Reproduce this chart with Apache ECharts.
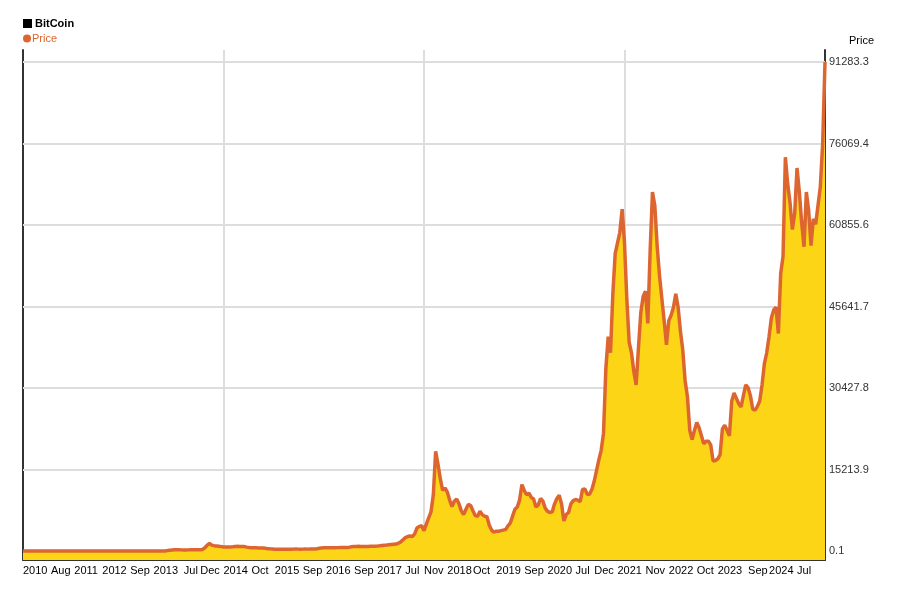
<!DOCTYPE html>
<html>
<head>
<meta charset="utf-8">
<script src="https://cdn.jsdelivr.net/npm/echarts@6/dist/echarts.min.js"></script>
<style>
html,body{margin:0;padding:0;background:#fff;}
#chart{width:900px;height:600px;}
</style>
</head>
<body>
<div id="chart"></div>
<script>
// Half-monthly BitCoin prices, starting 2010-07-16
const p2010 = [0.1, 0.1, 0.1, 0.1, 0.1, 0.1, 0.12, 0.2, 0.3, 0.25, 0.25];
const p2011 = [0.3, 0.3, 0.5, 0.9, 1.0, 0.9, 0.8, 0.8, 1.5, 3.5, 8, 20, 17, 15, 14, 11, 9, 6, 5, 4, 3.3, 3, 2.5, 3];
const p2012 = [4.3, 6.5, 6, 5.5, 4.8, 5, 5, 5, 5, 5, 5, 6.5, 8.5, 9, 11, 10, 11, 12, 12, 11, 11, 11, 11, 13];
const p2013 = [13, 14, 20, 80, 150, 200, 220, 230, 220, 210, 200, 200, 210, 220, 220, 230, 230, 240, 300, 600, 1100, 1400, 1100, 1000];
const p2014 = [950, 900, 820, 760, 740, 740, 760, 800, 850, 870, 860, 840, 820, 720, 640, 620, 620, 600, 580, 580, 570, 500, 440, 400];
const p2015 = [370, 340, 320, 310, 310, 330, 340, 330, 340, 350, 360, 350, 340, 350, 360, 350, 360, 370, 390, 430, 500, 580, 620, 620];
const p2016 = [630, 620, 610, 620, 630, 640, 640, 650, 660, 720, 800, 840, 860, 870, 860, 850, 850, 860, 870, 870, 890, 920, 960, 1020];
const p2017 = [1070, 1100, 1150, 1200, 1250, 1300, 1450, 1700, 2100, 2500, 2700, 2800, 2700, 3200, 4300, 4600, 4700, 3800, 5000, 6200, 7300, 10500, 18600, 16200];
const p2018 = [13500, 11300, 11800, 11000, 9500, 8300, 9300, 9700, 8800, 7500, 6800, 7800, 8700, 8500, 7500, 6600, 6500, 7400, 6800, 6500, 6400, 4800, 3900, 3500];
const p2019 = [3700, 3700, 3800, 3900, 4000, 4700, 5200, 6500, 7800, 8200, 9500, 12400, 11300, 10500, 10800, 10000, 9700, 8200, 8600, 9800, 9300, 8000, 7400, 7200];
const p2020 = [7300, 8800, 9800, 10400, 8800, 5600, 6800, 7200, 8800, 9400, 9600, 9500, 9200, 11500, 11600, 10600, 10600, 11500, 13000, 15000, 17000, 18800, 22000, 34000];
const p2021 = [40000, 37000, 48000, 55500, 57500, 59500, 63800, 57500, 47000, 39000, 37000, 33500, 31000, 38000, 44500, 47500, 48500, 42500, 56000, 67000, 64500, 57000, 51500, 47200];
const p2022 = [43000, 38500, 43000, 44000, 45500, 48000, 45500, 41000, 37500, 31800, 28800, 22500, 20800, 22500, 24000, 23000, 21500, 20000, 20500, 20500, 19800, 16800, 16900, 17200];
const p2023 = [18000, 22800, 23500, 22500, 21500, 28000, 29500, 28500, 27500, 26900, 29000, 31000, 30500, 29000, 26500, 26300, 27000, 28000, 31000, 35000, 37000, 40000, 43500, 45000];
const p2024 = [45500, 40600, 51800, 55000, 73500, 68500, 65000, 60000, 63000, 71500, 67000, 61200, 56800, 67000, 63500, 57000, 62000, 61000, 64500, 68000, 76000, 91283.3];

const priceValues = [].concat(p2010, p2011, p2012, p2013, p2014, p2015, p2016, p2017,
  p2018, p2019, p2020, p2021, p2022, p2023, p2024);

// x-axis tick labels and the dates they sit at
const xTickLabels = ['2010','Aug','2011','2012','Sep','2013','Jul','Dec','2014','Oct','2015','Sep','2016','Sep','2017','Jul','Nov',
  '2018','Oct','2019','Sep','2020','Jul','Dec','2021','Nov','2022','Oct','2023','Sep','2024','Jul'];
const xTickDates = ['2010-07-16','2011-01-16','2011-06-16','2011-12-16','2012-06-16','2012-11-16','2013-06-01','2013-09-16',
  '2014-02-16','2014-08-16','2015-01-16','2015-07-16','2015-12-16','2016-06-16','2016-11-16','2017-05-16','2017-09-16',
  '2018-02-16','2018-08-01','2019-01-01','2019-07-01','2019-12-01','2020-06-01','2020-10-01','2021-03-01','2021-09-01',
  '2022-02-01','2022-08-01','2022-12-16','2023-07-01','2023-11-16','2024-05-16'];
const xGridDates = ['2014-02-16', '2017-09-16', '2021-04-16'];

// y-axis tick labels
const yTickValues = [0.1, 15213.9, 30427.8, 45641.7, 60855.6, 76069.4, 91283.3];
const yMin = -1680;
const yMax = 93522;

// build category dates (half-monthly)
const dateCats = [];
(function () {
  let y = 2010, m = 7, d = 16;
  const pad = n => (n < 10 ? '0' + n : '' + n);
  for (let i = 0; i < priceValues.length; i++) {
    dateCats.push(y + '-' + pad(m) + '-' + pad(d));
    if (d === 1) { d = 16; } else { d = 1; m++; if (m > 12) { m = 1; y++; } }
  }
})();

const tickMap = {};
xTickDates.forEach((dt, k) => { tickMap[dt] = xTickLabels[k]; });

const FONT = '"Liberation Sans", Arial, sans-serif';
const ORANGE = '#dd6630';
const YELLOW = '#fcd616';

const chart = echarts.init(document.getElementById('chart'), null, { renderer: 'canvas' });
chart.setOption({
  animation: false,
  backgroundColor: '#ffffff',
  textStyle: { fontFamily: FONT },
  title: [
    {
      left: 23, top: 18, padding: 0,
      text: '{sq|}{t|BitCoin}',
      textStyle: {
        rich: {
          sq: { width: 9, height: 9, backgroundColor: '#000' },
          t: { fontFamily: FONT, fontWeight: 'bold', fontSize: 11, color: '#000', padding: [0, 0, 0, 3] }
        }
      }
    },
    {
      left: 23, top: 33, padding: 0,
      text: '{dot|}{t|Price}',
      textStyle: {
        fontWeight: 'normal',
        rich: {
          dot: { width: 8, height: 8, borderRadius: 4, backgroundColor: ORANGE },
          t: { fontFamily: FONT, fontWeight: 'normal', fontSize: 11, color: ORANGE, padding: [0, 0, 0, 1] }
        }
      }
    }
  ],
  grid: { left: 23, right: 75, top: 50, bottom: 40 },
  xAxis: {
    type: 'category',
    data: dateCats,
    boundaryGap: false,
    axisLine: { show: true, onZero: false, lineStyle: { color: '#333', width: 2 } },
    axisTick: { show: false },
    axisLabel: {
      interval: (idx, val) => Object.prototype.hasOwnProperty.call(tickMap, val),
      formatter: val => tickMap[val] || '',
      align: 'left',
      margin: 5,
      color: '#000',
      fontSize: 11,
      fontFamily: FONT
    },
    splitLine: {
      show: true,
      interval: (idx, val) => xGridDates.indexOf(val) >= 0,
      lineStyle: { color: '#dddddd', width: 2 }
    }
  },
  yAxis: [
    {
      type: 'value', position: 'left', min: yMin, max: yMax,
      axisLine: { show: true, lineStyle: { color: '#333', width: 2 } },
      axisTick: { show: false },
      axisLabel: { show: false },
      splitLine: { show: false }
    },
    {
      type: 'value', position: 'right', min: yMin, max: yMax,
      name: 'Price',
      nameLocation: 'end',
      nameGap: 4,
      nameTextStyle: { color: '#000', fontSize: 11, fontFamily: FONT, align: 'left', padding: [0, 0, 0, 24] },
      axisLine: { show: true, lineStyle: { color: '#333', width: 2 } },
      axisTick: { show: false },
      axisLabel: {
        customValues: yTickValues,
        formatter: v => Number(v).toFixed(1),
        margin: 4,
        color: '#333',
        fontSize: 11,
        fontFamily: FONT
      },
      splitLine: { show: false }
    }
  ],
  series: [
    {
      name: 'Price',
      type: 'line',
      xAxisIndex: 0,
      yAxisIndex: 0,
      data: priceValues,
      showSymbol: false,
      symbol: 'none',
      z: 2,
      itemStyle: { color: ORANGE },
      lineStyle: { color: ORANGE, width: 3.5 },
      areaStyle: { color: YELLOW, opacity: 1, origin: 'start' },
      markLine: {
        silent: true,
        z: 1,
        symbol: ['none', 'none'],
        label: { show: false },
        lineStyle: { color: '#dddddd', width: 2, type: 'solid' },
        data: yTickValues.map(v => ({ yAxis: v }))
      }
    }
  ]
});
</script>
</body>
</html>
